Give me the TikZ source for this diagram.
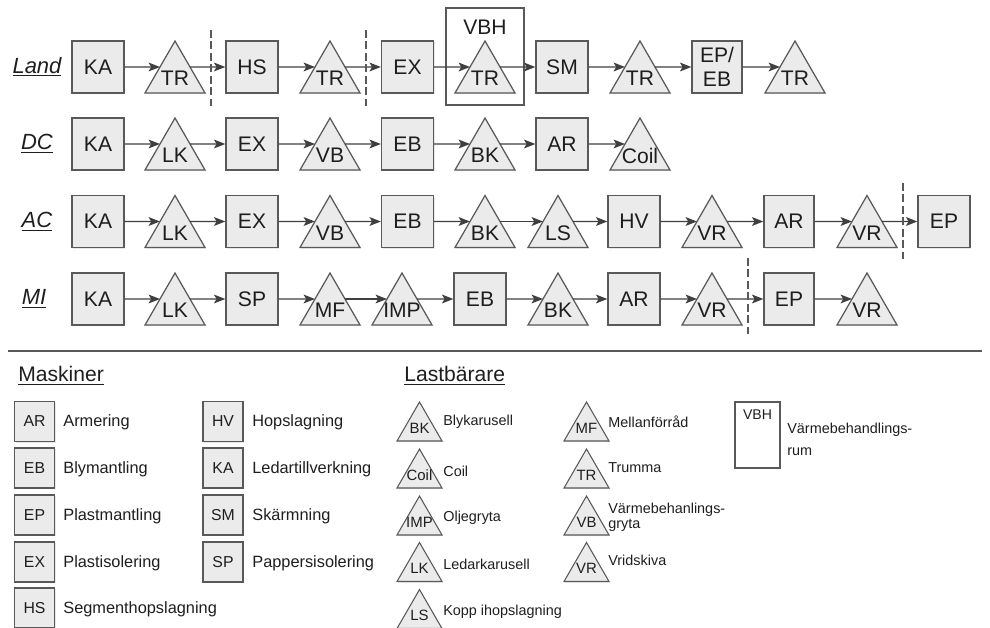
\documentclass[tikz,border=0pt]{standalone}
\usepackage{fontspec}
\setmainfont{Liberation Sans}
\usetikzlibrary{positioning,shapes.geometric,arrows,arrows.meta,shadows}
\definecolor{ink}     {HTML}{1E1E1E}
\definecolor{rim}     {HTML}{595959}
\definecolor{arrowink}{HTML}{3F3F3F}
\colorlet{machfill}{black!8}
\tikzset{
  >=stealth,
  every node/.style={text=ink},
  % --- nodes
  sh/.style    = {drop shadow={shadow xshift=0.7pt, shadow yshift=-0.7pt, opacity=0.18}},
  mach/.style  = {rectangle, draw=rim, fill=machfill, line width=0.7pt, sh,
                  minimum width=1.04cm, minimum height=1.04cm, inner sep=0pt,
                  align=center, font=\fontsize{12}{14}\selectfont},
  tri/.style   = {regular polygon, regular polygon sides=3, draw=rim, fill=machfill,
                  line width=0.7pt, minimum size=1.386cm, inner sep=0pt, outer sep=0pt,
                  yshift=-0.1733cm, sh,
                  label={[font=\fontsize{12}{14}\selectfont, yshift=-1.7pt]center:#1}},
  room/.style  = {rectangle, draw=rim, line width=0.7pt, inner sep=0pt},
  lmach/.style = {mach, minimum width=0.8cm, minimum height=0.8cm,
                  font=\fontsize{9}{10}\selectfont},
  ltri/.style  = {regular polygon, regular polygon sides=3, draw=rim, fill=machfill,
                  line width=0.6pt, minimum size=1.039cm, inner sep=0pt, outer sep=0pt,
                  yshift=-0.13cm, sh,
                  label={[font=\fontsize{8.5}{9}\selectfont]center:#1}},
  rowlbl/.style= {font=\fontsize{12.5}{14}\selectfont\itshape},
  lhead/.style = {font=\fontsize{12}{14}\selectfont, anchor=west, inner sep=0pt},
  ltxt/.style  = {font=\fontsize{9.3}{11}\selectfont, anchor=west, inner sep=0pt},
  ltxts/.style = {font=\fontsize{8.2}{8.8}\selectfont, anchor=west, inner sep=0pt,
                  align=left},
  % --- edges
  e/.style     = {-{Stealth[length=6.5pt, width=5pt, inset=1.5pt]}, draw=arrowink,
                  line width=0.8pt},
  cut/.style   = {draw=rim, line width=0.7pt, dash pattern=on 4.5pt off 2pt},
  rule/.style  = {draw=black!65, line width=1pt},
}

\begin{document}
\begin{tikzpicture}[x=0.02cm, y=-0.02cm]
  \useasboundingbox (0,0) rectangle (990,628);

  % line names
  \node[rowlbl] (land) at (37,67)    {\underline{Land}};
  \node[rowlbl] (dc)   at (37,144)   {\underline{DC}};
  \node[rowlbl] (ac)   at (37,221.5) {\underline{AC}};
  \node[rowlbl] (mi)   at (34,299)   {\underline{MI}};

  % Land
  \node[room, minimum width=1.56cm, minimum height=1.94cm,
        label={[font=\fontsize{12}{14}\selectfont, anchor=north, inner sep=0pt,
                yshift=-0.24cm]north:VBH}] (vbh) at (485,56.5) {};
  \node[mach]   (ka1) at (98,67)    {KA};
  \node[tri=TR] (tr1) at (175,67)   {};
  \node[mach]   (hs1) at (252,67)   {HS};
  \node[tri=TR] (tr2) at (330,67)   {};
  \node[mach]   (ex1) at (407.5,67) {EX};
  \node[tri=TR] (tr3) at (485,67)   {};
  \node[mach]   (sm1) at (562,67)   {SM};
  \node[tri=TR] (tr4) at (640,67)   {};
  \node[mach, minimum width=1.0cm] (ep1) at (717,67) {EP/\\EB};
  \node[tri=TR] (tr5) at (795,67)   {};

  \draw[e] (ka1.east)   -- (tr1.side 1);
  \draw[e] (tr1.side 3) -- (hs1.west);
  \draw[e] (hs1.east)   -- (tr2.side 1);
  \draw[e] (tr2.side 3) -- (ex1.west);
  \draw[e] (ex1.east)   -- (tr3.side 1);
  \draw[e] (tr3.side 3) -- (sm1.west);
  \draw[e] (sm1.east)   -- (tr4.side 1);
  \draw[e] (tr4.side 3) -- (ep1.west);
  \draw[e] (ep1.east)   -- (tr5.side 1);
  \draw[cut] (211,30) -- (211,107);
  \draw[cut] (366,30) -- (366,107);

  % DC
  \node[mach]     (ka2)   at (98,144)    {KA};
  \node[tri=LK]   (lk2)   at (175,144)   {};
  \node[mach]     (ex2)   at (252,144)   {EX};
  \node[tri=VB]   (vb2)   at (330,144)   {};
  \node[mach]     (eb2)   at (407.5,144) {EB};
  \node[tri=BK]   (bk2)   at (485,144)   {};
  \node[mach]     (ar2)   at (562,144)   {AR};
  \node[tri=Coil] (coil2) at (640,144)   {};

  \draw[e] (ka2.east)   -- (lk2.side 1);
  \draw[e] (lk2.side 3) -- (ex2.west);
  \draw[e] (ex2.east)   -- (vb2.side 1);
  \draw[e] (vb2.side 3) -- (eb2.west);
  \draw[e] (eb2.east)   -- (bk2.side 1);
  \draw[e] (bk2.side 3) -- (ar2.west);
  \draw[e] (ar2.east)   -- (coil2.side 1);

  % AC
  \node[mach]   (ka3)  at (98,221.5)    {KA};
  \node[tri=LK] (lk3)  at (175,221.5)   {};
  \node[mach]   (ex3)  at (252,221.5)   {EX};
  \node[tri=VB] (vb3)  at (330,221.5)   {};
  \node[mach]   (eb3)  at (407.5,221.5) {EB};
  \node[tri=BK] (bk3)  at (485,221.5)   {};
  \node[tri=LS] (ls3)  at (558,221.5)   {};
  \node[mach]   (hv3)  at (634,221.5)   {HV};
  \node[tri=VR] (vr3)  at (712,221.5)   {};
  \node[mach, minimum width=1.0cm] (ar3) at (789,221.5) {AR};
  \node[tri=VR] (vr3b) at (867,221.5)   {};
  \node[mach]   (ep3)  at (944,221.5)   {EP};

  \draw[e] (ka3.east)   -- (lk3.side 1);
  \draw[e] (lk3.side 3) -- (ex3.west);
  \draw[e] (ex3.east)   -- (vb3.side 1);
  \draw[e] (vb3.side 3) -- (eb3.west);
  \draw[e] (eb3.east)   -- (bk3.side 1);
  \draw[e] (bk3.side 3) -- (ls3.side 1);
  \draw[e] (ls3.side 3) -- (hv3.west);
  \draw[e] (hv3.east)   -- (vr3.side 1);
  \draw[e] (vr3.side 3) -- (ar3.west);
  \draw[e] (ar3.east)   -- (vr3b.side 1);
  \draw[e] (vr3b.side 3) -- (ep3.west);
  \draw[cut] (903,183) -- (903,260);

  % MI
  \node[mach]    (ka4)  at (98,299)  {KA};
  \node[tri=LK]  (lk4)  at (175,299) {};
  \node[mach]    (sp4)  at (252,299) {SP};
  \node[tri=MF]  (mf4)  at (330,299) {};
  \node[tri=IMP] (imp4) at (402,299) {};
  \node[mach]    (eb4)  at (480,299) {EB};
  \node[tri=BK]  (bk4)  at (558,299) {};
  \node[mach]    (ar4)  at (634,299) {AR};
  \node[tri=VR]  (vr4)  at (712,299) {};
  \node[mach, minimum width=1.0cm] (ep4) at (789,299) {EP};
  \node[tri=VR]  (vr4b) at (867,299) {};

  \draw[e] (ka4.east)    -- (lk4.side 1);
  \draw[e] (lk4.side 3)  -- (sp4.west);
  \draw[e] (sp4.east)    -- (mf4.side 1);
  \draw[e] (mf4.side 3)  -- (imp4.side 1);
  \draw[e] (imp4.side 3) -- (eb4.west);
  \draw[e] (eb4.east)    -- (bk4.side 1);
  \draw[e] (bk4.side 3)  -- (ar4.west);
  \draw[e] (ar4.east)    -- (vr4.side 1);
  \draw[e] (vr4.side 3)  -- (ep4.west);
  \draw[e] (ep4.east)    -- (vr4b.side 1);
  \draw[cut] (748,258) -- (748,336);

  \draw[rule] (8,351) -- (982,351);

  % legend: machines
  \node[lhead] (mhead) at (18,376) {\underline{Maskiner}};
  \node[lmach] (lar) at (34.5,421.5) {AR};
  \node[ltxt]  (tar) at (63,422)     {Armering};
  \node[lmach] (leb) at (34.5,468)   {EB};
  \node[ltxt]  (teb) at (63,469)     {Blymantling};
  \node[lmach] (lep) at (34.5,515)   {EP};
  \node[ltxt]  (tep) at (63,516)     {Plastmantling};
  \node[lmach] (lex) at (34.5,562)   {EX};
  \node[ltxt]  (tex) at (63,563)     {Plastisolering};
  \node[lmach] (lhs) at (34.5,608)   {HS};
  \node[ltxt]  (ths) at (63,609)     {Segmenthopslagning};
  \node[lmach] (lhv) at (223,421.5)  {HV};
  \node[ltxt]  (thv) at (252,422)    {Hopslagning};
  \node[lmach] (lka) at (223,468)    {KA};
  \node[ltxt]  (tka) at (252,469)    {Ledartillverkning};
  \node[lmach] (lsm) at (223,515)    {SM};
  \node[ltxt]  (tsm) at (252,516)    {Skärmning};
  \node[lmach] (lsp) at (223,562)    {SP};
  \node[ltxt]  (tsp) at (252,563)    {Pappersisolering};

  % legend: carriers
  \node[lhead] (chead) at (404,376) {\underline{Lastbärare}};
  \node[ltri=BK]   (lbk)   at (419.5,421.5) {};
  \node[ltxts]     (tbk)   at (443,422)     {Blykarusell};
  \node[ltri=Coil] (lcoil) at (419.5,468.5) {};
  \node[ltxts]     (tcoil) at (443,471)     {Coil};
  \node[ltri=IMP]  (limp)  at (419.5,515.5) {};
  \node[ltxts]     (timp)  at (443,518)     {Oljegryta};
  \node[ltri=LK]   (llk)   at (419.5,562)   {};
  \node[ltxts]     (tlk)   at (443,564)     {Ledarkarusell};
  \node[ltri=LS]   (lls)   at (419.5,609)   {};
  \node[ltxts]     (tls)   at (443,612)     {Kopp ihopslagning};
  \node[ltri=MF]   (lmf)   at (586.5,421.5) {};
  \node[ltxts]     (tmf)   at (608,422)     {Mellanförråd};
  \node[ltri=TR]   (ltr)   at (586.5,468.5) {};
  \node[ltxts]     (ttr)   at (608,468)     {Trumma};
  \node[ltri=VB]   (lvb)   at (586.5,515.5) {};
  \node[ltxts]     (tvb)   at (608,517.5)   {Värmebehanlings-\\gryta};
  \node[ltri=VR]   (lvr)   at (586.5,562)   {};
  \node[ltxts]     (tvr)   at (608,560)     {Vridskiva};

  \node[room, minimum width=0.9cm, minimum height=1.32cm,
        label={[font=\fontsize{8}{9}\selectfont, anchor=north, inner sep=0pt,
                yshift=-0.16cm]north:VBH}] (lvbh) at (757.5,435) {};
  \node[ltxts] (tvbh) at (787,439.5) {Värmebehandlings-\\[4pt]rum};
\end{tikzpicture}
\end{document}
